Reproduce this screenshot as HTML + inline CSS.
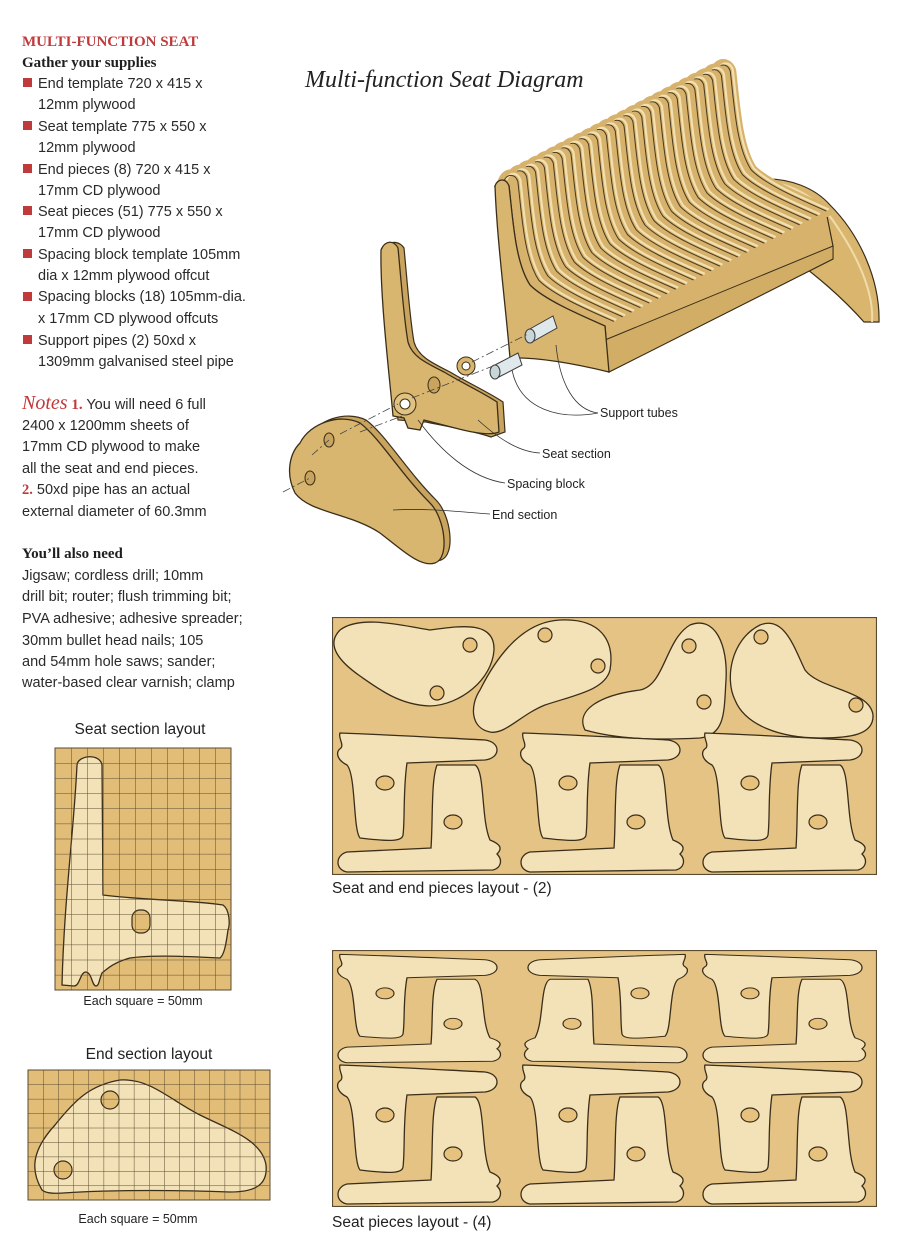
<!DOCTYPE html>
<html><head><meta charset="utf-8"><style>
html,body{margin:0;padding:0;background:#fff}
svg{display:block}
.t{font-family:"Liberation Sans",sans-serif;font-size:14.5px;fill:#2a2a2a}
.h{font-family:"Liberation Serif",serif;font-weight:bold;font-size:15px;fill:#1f1f1f}
.lbl{font-family:"Liberation Sans",sans-serif;font-size:12.5px;fill:#222}
.cap{font-family:"Liberation Sans",sans-serif;font-size:15.5px;fill:#222}
.pc{fill:#f3e2b8;stroke:#3a2e1a;stroke-width:1.3}
.hole{fill:#e6c27e;stroke:#3a2e1a;stroke-width:1.2}
.ln{fill:none;stroke:#333;stroke-width:0.8}
</style></head><body>
<svg width="910" height="1248" viewBox="0 0 910 1248" xmlns="http://www.w3.org/2000/svg">
<defs>
<pattern id="g1" x="55" y="748" width="16" height="15.125" patternUnits="userSpaceOnUse">
<path d="M0,0 H16 M0,0 V15.125" stroke="#5a4a30" stroke-width="1" fill="none"/></pattern>
<pattern id="g2" x="28" y="1070" width="15.125" height="14.44" patternUnits="userSpaceOnUse">
<path d="M0,0 H15.125 M0,0 V14.44" stroke="#5a4a30" stroke-width="1" fill="none"/></pattern>
<path id="sp" d="M495,186 C498,178 506,178 509,186 C513,220 515,262 530,285 C545,300 580,315 605,326"/>
<g id="slat">
<use href="#sp" fill="none" stroke="#d6b26c" stroke-width="12" stroke-linecap="round"/>
<use href="#sp" transform="translate(2.5,-1.5)" fill="none" stroke="#f2e0b0" stroke-width="2.2"/>
<use href="#sp" fill="none" stroke="#4a3a20" stroke-width="1"/>
</g>
<g id="tA">
<path class="pc" d="M5,3 C60,5 110,8 150,10 C166,12 166,28 150,30 L72,33 C68,60 70,90 68,105 C67,111 58,112 25,108 C18,100 21,45 12,35 C2,30 0,22 6,18 C9,14 3,8 5,3 Z"/>
<ellipse class="hole" cx="50" cy="53" rx="9" ry="7"/>
<path class="pc" d="M102,35 L140,35 C150,40 146,90 155,110 C165,114 168,118 162,124 C168,130 166,138 158,140 L12,142 C0,140 0,125 12,122 L96,118 C98,90 96,50 102,35 Z"/>
<ellipse class="hole" cx="118" cy="92" rx="9" ry="7"/>
</g>
</defs>

<!-- LEFT TEXT -->
<text x="22" y="46" font-family="Liberation Serif,serif" font-weight="bold" font-size="15" fill="#c0393b">MULTI-FUNCTION SEAT</text>
<text x="22" y="67" class="h">Gather your supplies</text>
<g fill="#c0393b">
<rect x="23" y="78" width="9" height="9"/><rect x="23" y="121" width="9" height="9"/><rect x="23" y="164" width="9" height="9"/><rect x="23" y="206" width="9" height="9"/><rect x="23" y="249" width="9" height="9"/><rect x="23" y="292" width="9" height="9"/><rect x="23" y="335" width="9" height="9"/>
</g>
<g class="t">
<text x="38" y="88">End template 720 x 415 x</text>
<text x="38" y="109">12mm plywood</text>
<text x="38" y="131">Seat template 775 x 550 x</text>
<text x="38" y="152">12mm plywood</text>
<text x="38" y="174">End pieces (8) 720 x 415 x</text>
<text x="38" y="195">17mm CD plywood</text>
<text x="38" y="216">Seat pieces (51) 775 x 550 x</text>
<text x="38" y="237">17mm CD plywood</text>
<text x="38" y="259">Spacing block template 105mm</text>
<text x="38" y="280">dia x 12mm plywood offcut</text>
<text x="38" y="301">Spacing blocks (18) 105mm-dia.</text>
<text x="38" y="323">x 17mm CD plywood offcuts</text>
<text x="38" y="345">Support pipes (2) 50xd x</text>
<text x="38" y="366">1309mm galvanised steel pipe</text>
<text x="22" y="409"><tspan font-family="Liberation Serif,serif" font-style="italic" font-size="20" fill="#c0393b">Notes</tspan><tspan font-family="Liberation Serif,serif" font-weight="bold" font-size="15" fill="#c0393b"> 1.</tspan> You will need 6 full</text>
<text x="22" y="430">2400 x 1200mm sheets of</text>
<text x="22" y="451">17mm CD plywood to make</text>
<text x="22" y="473">all the seat and end pieces.</text>
<text x="22" y="494"><tspan font-family="Liberation Serif,serif" font-weight="bold" fill="#c0393b">2.</tspan> 50xd pipe has an actual</text>
<text x="22" y="516">external diameter of 60.3mm</text>
<text x="22" y="580">Jigsaw; cordless drill; 10mm</text>
<text x="22" y="601">drill bit; router; flush trimming bit;</text>
<text x="22" y="623">PVA adhesive; adhesive spreader;</text>
<text x="22" y="645">30mm bullet head nails; 105</text>
<text x="22" y="666">and 54mm hole saws; sander;</text>
<text x="22" y="687">water-based clear varnish; clamp</text>
</g>
<text x="22" y="558" class="h">You’ll also need</text>

<!-- TITLE -->
<text x="305" y="87" font-family="Liberation Serif,serif" font-style="italic" font-size="24" fill="#222">Multi-function Seat Diagram</text>

<!-- BENCH -->
<path d="M763,179 C790,178 815,188 830,205 C860,235 880,280 879,322 L864,322 C840,295 815,275 794,259 Z" fill="#d9b56e" stroke="#3a2e1a" stroke-width="1.2"/>
<path d="M770,182 C795,185 820,200 836,225 C860,260 874,295 872,322" fill="none" stroke="#f0dcaa" stroke-width="2"/>
<path d="M495,186 C498,178 506,178 509,186 C513,220 515,262 530,285 C545,300 580,315 605,326 L609,372 L833,259 L833,246 L826,211 C801,200 766,185 751,170 C736,147 734,105 730,71 C727,63 719,63 716,71 Z" fill="#d6b26c" stroke="#3a2e1a" stroke-width="1.2"/>
<path d="M609,372 L833,259 L833,246 L605,340 Z" fill="#d2ad66" stroke="#3a2e1a" stroke-width="1"/>
<g>
<use href="#slat" transform="translate(221.25,-115)"/>
<use href="#slat" transform="translate(212.4,-110.4)"/>
<use href="#slat" transform="translate(203.55,-105.8)"/>
<use href="#slat" transform="translate(194.7,-101.2)"/>
<use href="#slat" transform="translate(185.85,-96.6)"/>
<use href="#slat" transform="translate(177,-92)"/>
<use href="#slat" transform="translate(168.15,-87.4)"/>
<use href="#slat" transform="translate(159.3,-82.8)"/>
<use href="#slat" transform="translate(150.45,-78.2)"/>
<use href="#slat" transform="translate(141.6,-73.6)"/>
<use href="#slat" transform="translate(132.75,-69)"/>
<use href="#slat" transform="translate(123.9,-64.4)"/>
<use href="#slat" transform="translate(115.05,-59.8)"/>
<use href="#slat" transform="translate(106.2,-55.2)"/>
<use href="#slat" transform="translate(97.35,-50.6)"/>
<use href="#slat" transform="translate(88.5,-46)"/>
<use href="#slat" transform="translate(79.65,-41.4)"/>
<use href="#slat" transform="translate(70.8,-36.8)"/>
<use href="#slat" transform="translate(61.95,-32.2)"/>
<use href="#slat" transform="translate(53.1,-27.6)"/>
<use href="#slat" transform="translate(44.25,-23)"/>
<use href="#slat" transform="translate(35.4,-18.4)"/>
<use href="#slat" transform="translate(26.55,-13.8)"/>
<use href="#slat" transform="translate(17.7,-9.2)"/>
<use href="#slat" transform="translate(8.85,-4.6)"/>
</g>
<path d="M495,186 C498,178 506,178 509,186 C513,220 515,262 530,285 C545,300 580,315 605,326 L609,372 C580,365 540,357 510,358 C505,300 497,240 495,186 Z" fill="#d9b66f" stroke="#3a2e1a" stroke-width="1.3"/>
<!-- tubes -->
<g stroke="#3a3a3a" stroke-width="1">
<path d="M528,330 L553,316 L557,328 L532,342 Z" fill="#dfe8ea"/>
<ellipse cx="530" cy="336" rx="5" ry="7" fill="#c8d6da"/>
<path d="M493,366 L518,353 L522,365 L497,378 Z" fill="#dfe8ea"/>
<ellipse cx="495" cy="372" rx="5" ry="7" fill="#c8d6da"/>
</g>
<!-- seat section piece -->
<path d="M387,246 C392,240 400,242 404,248 C408,290 410,320 414,342 C418,356 430,362 450,372 C470,384 488,392 503,402 L505,432 L491,437 C470,430 440,425 426,422 L398,420 C394,380 386,300 387,246 Z" fill="#c9a45e" stroke="#3a2e1a" stroke-width="1.2"/>
<path d="M381,250 C385,240 394,240 398,248 C402,290 404,320 408,342 C412,356 424,362 444,372 C464,384 482,392 497,402 L499,432 C490,436 470,432 455,428 L424,420 L420,430 L408,428 L404,418 L393,416 C390,380 380,300 381,250 Z" fill="#d9b66f" stroke="#3a2e1a" stroke-width="1.3"/>
<circle cx="466" cy="366" r="9" fill="#d9b66f" stroke="#3a2e1a"/><circle cx="466" cy="366" r="4" fill="#fff" stroke="#3a2e1a"/>
<ellipse cx="434" cy="385" rx="6" ry="8" fill="#c9a45e" stroke="#3a2e1a"/>
<circle cx="405" cy="404" r="11" fill="#e0c283" stroke="#3a2e1a"/><circle cx="405" cy="404" r="5" fill="#fff" stroke="#3a2e1a"/>
<!-- end section -->
<path d="M306,440 C316,420 346,410 366,420 C386,435 406,470 436,500 C451,515 456,555 441,560 C426,565 406,545 386,530 C356,510 316,510 301,490 C291,470 296,450 306,440 Z" fill="#c9a45e" stroke="#3a2e1a" stroke-width="1.2"/>
<path d="M300,443 C310,423 340,413 360,423 C380,438 400,473 430,503 C445,518 450,558 435,563 C420,568 400,548 380,533 C350,513 310,513 295,493 C285,473 290,453 300,443 Z" fill="#d9b66f" stroke="#3a2e1a" stroke-width="1.3"/>
<ellipse cx="329" cy="440" rx="5" ry="7" fill="#c9a45e" stroke="#3a2e1a"/>
<ellipse cx="310" cy="478" rx="5" ry="7" fill="#c9a45e" stroke="#3a2e1a"/>
<!-- axis dashed -->
<g stroke="#444" stroke-width="0.8" stroke-dasharray="8,3,2,3" fill="none">
<path d="M283,492 L310,478"/><path d="M312,455 L329,440"/>
<path d="M340,434 L398,404"/><path d="M360,432 L402,416"/>
<path d="M412,398 L493,366"/><path d="M472,362 L528,334"/>
</g>
<!-- leaders -->
<path class="ln" d="M556,345 C560,385 575,410 598,413"/>
<path class="ln" d="M512,370 C520,410 560,420 598,413"/>
<path class="ln" d="M478,420 C500,440 520,452 540,453"/>
<path class="ln" d="M418,420 C440,450 470,478 505,483"/>
<path class="ln" d="M393,510 C430,508 460,512 490,514"/>
<text x="600" y="417" class="lbl">Support tubes</text>
<text x="542" y="458" class="lbl">Seat section</text>
<text x="507" y="488" class="lbl">Spacing block</text>
<text x="492" y="519" class="lbl">End section</text>

<!-- SEAT GRID -->
<text x="140" y="734" text-anchor="middle" class="cap">Seat section layout</text>
<rect x="55" y="748" width="176" height="242" fill="#e2bd78"/>
<path d="M77,765 C78,755 100,753 102,765 L103,895 C140,900 190,900 223,905 C230,910 230,925 228,930 C226,945 224,955 220,958 C180,956 150,955 130,958 C115,962 108,968 102,973 C99,980 99,986 96,986 C92,986 92,973 86,972 C80,972 80,986 74,986 L62,985 C64,900 74,830 77,765 Z" fill="#f3e2b8" stroke="#3a2e1a" stroke-width="1.3"/>
<rect x="132" y="910" width="18" height="23" rx="8" fill="#e2bd78" stroke="#3a2e1a" stroke-width="1.2"/>
<rect x="55" y="748" width="176" height="242" fill="url(#g1)" stroke="#5a4a30" stroke-width="1"/>
<text x="143" y="1005" text-anchor="middle" class="lbl">Each square = 50mm</text>

<!-- END GRID -->
<text x="149" y="1059" text-anchor="middle" class="cap">End section layout</text>
<rect x="28" y="1070" width="242" height="130" fill="#e2bd78"/>
<path d="M42,1190 C30,1170 32,1150 55,1125 C75,1100 90,1085 120,1080 C150,1078 170,1100 200,1115 C230,1130 262,1140 266,1165 C268,1185 255,1192 230,1192 C180,1190 120,1190 80,1192 C60,1193 48,1195 42,1190 Z" fill="#f3e2b8" stroke="#3a2e1a" stroke-width="1.3"/>
<circle cx="110" cy="1100" r="9" fill="#e2bd78" stroke="#3a2e1a" stroke-width="1.2"/>
<circle cx="63" cy="1170" r="9" fill="#e2bd78" stroke="#3a2e1a" stroke-width="1.2"/>
<rect x="28" y="1070" width="242" height="130" fill="url(#g2)" stroke="#5a4a30" stroke-width="1"/>
<text x="138" y="1223" text-anchor="middle" class="lbl">Each square = 50mm</text>

<!-- LAYOUT 1 -->
<svg x="332" y="617" width="545" height="258" viewBox="332 617 545 258" overflow="hidden">
<rect x="332" y="617" width="545" height="258" fill="#e5c384"/>
<path class="pc" d="M340,630 C360,615 400,625 430,630 C460,626 495,620 494,650 C492,680 460,705 430,706 C400,705 380,690 360,676 C340,662 325,645 340,630 Z"/>
<circle class="hole" cx="470" cy="645" r="7"/><circle class="hole" cx="437" cy="693" r="7"/>
<path class="pc" d="M480,690 C495,660 520,622 560,620 C600,618 615,640 610,670 C605,690 575,695 545,705 C520,715 505,735 490,732 C470,728 470,705 480,690 Z"/>
<circle class="hole" cx="545" cy="635" r="7"/><circle class="hole" cx="598" cy="666" r="7"/>
<path class="pc" d="M585,730 C575,710 600,695 640,690 C665,685 665,640 690,625 C715,615 728,645 726,680 C724,710 726,735 700,738 C660,740 620,740 585,730 Z"/>
<circle class="hole" cx="689" cy="646" r="7"/><circle class="hole" cx="704" cy="702" r="7"/>
<path class="pc" d="M735,700 C725,680 730,640 760,625 C785,615 795,650 805,670 C820,690 870,690 873,715 C874,735 850,738 820,738 C780,738 745,725 735,700 Z"/>
<circle class="hole" cx="761" cy="637" r="7"/><circle class="hole" cx="856" cy="705" r="7"/>
<use href="#tA" transform="translate(335,730)"/>
<use href="#tA" transform="translate(518,730)"/>
<use href="#tA" transform="translate(700,730)"/>
<rect x="332.5" y="617.5" width="544" height="257" fill="none" stroke="#5a4a30" stroke-width="1.2"/>
</svg>
<text x="332" y="893" class="cap">Seat and end pieces layout - (2)</text>

<!-- LAYOUT 2 -->
<svg x="332" y="950" width="545" height="257" viewBox="332 950 545 257" overflow="hidden">
<rect x="332" y="950" width="545" height="257" fill="#e5c384"/>
<use href="#tA" transform="translate(335,952) scale(1,0.78)"/>
<use href="#tA" transform="translate(690,952) scale(-1,0.78)"/>
<use href="#tA" transform="translate(700,952) scale(1,0.78)"/>
<use href="#tA" transform="translate(335,1062)"/>
<use href="#tA" transform="translate(518,1062)"/>
<use href="#tA" transform="translate(700,1062)"/>
<rect x="332.5" y="950.5" width="544" height="256" fill="none" stroke="#5a4a30" stroke-width="1.2"/>
</svg>
<text x="332" y="1227" class="cap">Seat pieces layout - (4)</text>
</svg>
</body></html>
